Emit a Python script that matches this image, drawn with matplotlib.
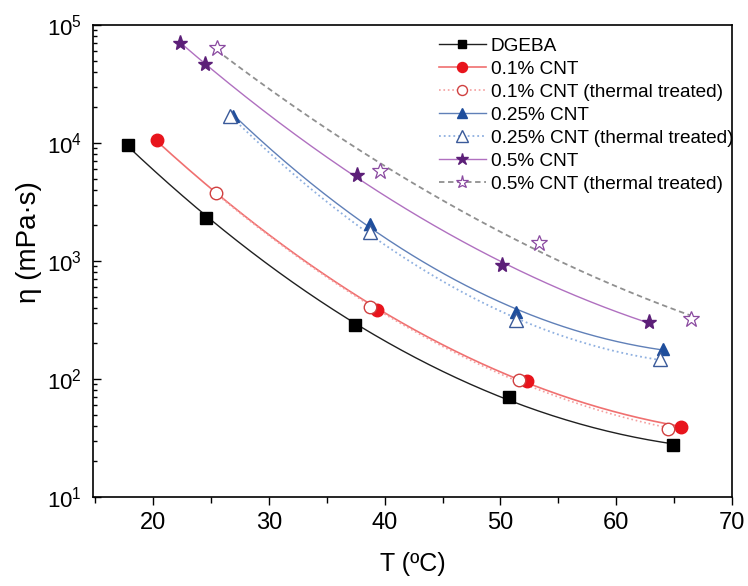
import numpy as np
import matplotlib
matplotlib.use("Agg")
import matplotlib.pyplot as plt
from matplotlib.ticker import LogLocator, NullFormatter, MultipleLocator

plt.rcParams['font.family'] = ['Liberation Sans', 'DejaVu Sans']
plt.rcParams['mathtext.fontset'] = 'custom'
plt.rcParams['mathtext.rm'] = 'Liberation Sans'

labels = ["DGEBA", "0.1% CNT", "0.1% CNT (thermal treated)", "0.25% CNT",
          "0.25% CNT (thermal treated)", "0.5% CNT", "0.5% CNT (thermal treated)"]

T_dgeba = [17.8, 24.6, 37.4, 50.7, 64.9]
eta_dgeba = [9700, 2330, 285, 71, 27.5]

T_cnt01 = [20.3, 39.3, 52.3, 65.6]
eta_cnt01 = [10500, 385, 97, 39]

T_cnt01t = [25.4, 38.7, 51.6, 64.5]
eta_cnt01t = [3800, 405, 99, 38]

T_cnt025 = [26.9, 38.7, 51.3, 64.0]
eta_cnt025 = [17000, 2060, 370, 180]

T_cnt025t = [26.6, 38.7, 51.3, 63.8]
eta_cnt025t = [17000, 1760, 316, 147]

T_cnt05 = [22.3, 24.5, 37.6, 50.1, 62.8]
eta_cnt05 = [70000, 47000, 5400, 920, 305]

T_cnt05t = [25.5, 39.6, 53.3, 66.5]
eta_cnt05t = [64000, 5800, 1420, 325]

series = [
    (T_dgeba, eta_dgeba, dict(color='#202020', ls='-', lw=1.0, marker='s', mfc='black', mec='black', ms=8)),
    (T_cnt01, eta_cnt01, dict(color='#f07070', ls='-', lw=1.2, marker='o', mfc='#e8141c', mec='#e8141c', ms=9)),
    (T_cnt01t, eta_cnt01t, dict(color='#f4a0a0', ls=':', lw=1.2, marker='o', mfc='white', mec='#d04040', ms=9, mew=1.0)),
    (T_cnt025, eta_cnt025, dict(color='#6080b8', ls='-', lw=1.0, marker='^', mfc='#1f4e9c', mec='#1f4e9c', ms=9)),
    (T_cnt025t, eta_cnt025t, dict(color='#8fb0e0', ls=':', lw=1.3, marker='^', mfc='white', mec='#3a5a9a', ms=10, mew=1.0)),
    (T_cnt05, eta_cnt05, dict(color='#b070c0', ls='-', lw=1.0, marker='*', mfc='#5c1f78', mec='#5c1f78', ms=11)),
    (T_cnt05t, eta_cnt05t, dict(color='#909090', ls=(0, (3, 2)), lw=1.3, marker='*', mfc='white', mec='#8a4aa0', ms=12, mew=0.9)),
]

fig = plt.figure(figsize=(7.48, 5.86), dpi=100)
ax = fig.add_axes([93/748, 1-497/586, (732-93)/748, (497-25)/586])

for (T, eta, st), lab in zip(series, labels):
    T = np.array(T); eta = np.array(eta)
    p = np.polyfit(T, np.log10(eta), 2)
    xs = np.linspace(T.min(), T.max(), 200)
    ax.plot(xs, 10**np.polyval(p, xs), color=st['color'], ls=st['ls'], lw=st['lw'], zorder=2)
    ax.plot(T, eta, ls='none', marker=st['marker'], mfc=st['mfc'], mec=st['mec'],
            ms=st['ms'], mew=st.get('mew', 1.0), zorder=3)
    ax.plot([], [], color=st['color'], ls=st['ls'], lw=st['lw'], marker=st['marker'],
            mfc=st['mfc'], mec=st['mec'], ms=st['ms']*0.8, mew=st.get('mew', 1.0), label=lab)

ax.set_yscale('log')
ax.set_xlim(14.8, 70)
ax.set_ylim(10, 1e5)
ax.xaxis.set_major_locator(MultipleLocator(10))
ax.xaxis.set_minor_locator(MultipleLocator(5))
ax.yaxis.set_major_locator(LogLocator(base=10, numticks=10))
ax.yaxis.set_minor_locator(LogLocator(base=10, subs=np.arange(2, 10), numticks=10))
ax.yaxis.set_minor_formatter(NullFormatter())
ax.tick_params(axis='x', which='major', direction='out', length=6, width=1, labelsize=17, pad=5)
ax.tick_params(axis='x', which='minor', direction='out', length=4, width=1)
ax.tick_params(axis='y', which='major', direction='in', length=6, width=1, labelsize=16, pad=8)
ax.tick_params(axis='y', which='minor', direction='in', length=3, width=1)
for s in ax.spines.values():
    s.set_linewidth(1.2)

ax.set_xlabel('T (ºC)', fontsize=18, labelpad=13)
ax.set_ylabel('η (mPa·s)', fontsize=20)
ax.yaxis.set_label_coords(-0.08, 0.54)

leg = ax.legend(loc='upper right', bbox_to_anchor=(1.014, 0.99), frameon=False, fontsize=13.7,
                handlelength=2.5, handletextpad=0.25, labelspacing=0.3, borderaxespad=0.0)

fig.savefig('out.png', dpi=100)
